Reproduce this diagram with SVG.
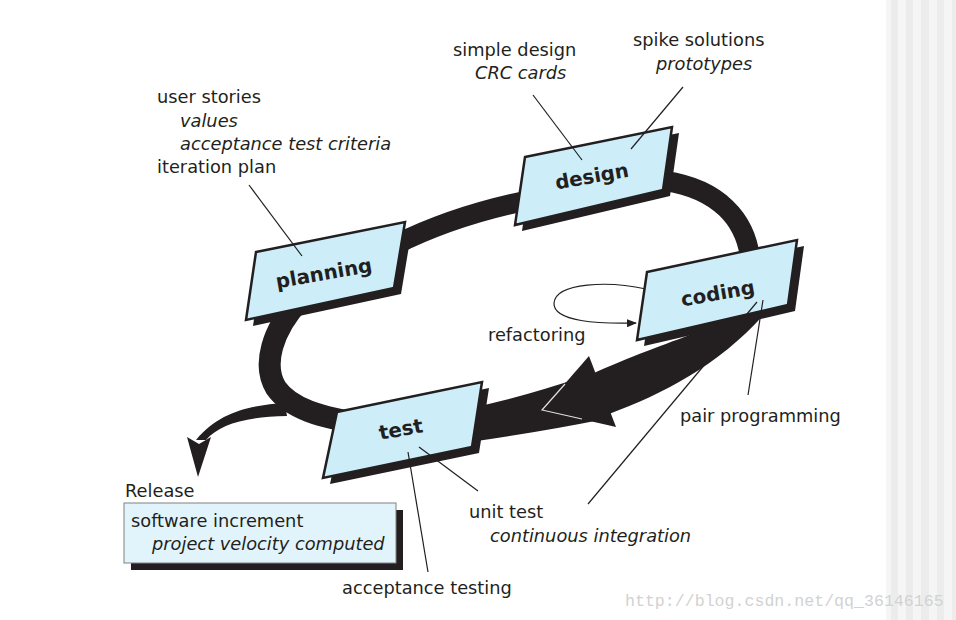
<svg xmlns="http://www.w3.org/2000/svg" width="956" height="620" viewBox="0 0 956 620">
<style>
.lbl{font-family:"DejaVu Sans",sans-serif;font-size:17.8px;fill:#231f20}
.it{font-style:italic}
.bx{fill:#cdeef9;stroke:#231f20;stroke-width:2.5;stroke-linejoin:miter}
.sh{fill:#231f20}
.bt{font-family:"DejaVu Sans",sans-serif;font-weight:bold;font-size:19.8px;fill:#231f20;text-anchor:middle}
.ld{stroke:#231f20;stroke-width:1.2;fill:none}
.band{fill:none;stroke:#231f20}
</style>
<defs>
<marker id="ah" viewBox="0 0 10 8" refX="9" refY="4" markerWidth="10" markerHeight="8" markerUnits="userSpaceOnUse" orient="auto">
<path d="M0 0 L10 4 L0 8 Z" fill="#231f20"/>
</marker>
</defs>
<rect width="956" height="620" fill="#ffffff"/>
<g id="stripes">
<rect x="886" y="0" width="70" height="620" fill="#f5f5f5"/>
<rect x="891" y="0" width="7" height="620" fill="#ececec"/>
<rect x="906" y="0" width="7" height="620" fill="#ececec"/>
<rect x="921" y="0" width="8" height="620" fill="#ececec"/>
<rect x="937" y="0" width="7" height="620" fill="#ececec"/>
<rect x="952" y="0" width="4" height="620" fill="#ececec"/>
</g>
<g id="connectors">
<path class="band" stroke-width="22" d="M300 300 C272 330 262 365 276 388 C290 408 320 418 365 424"/>
<path class="band" stroke-width="20" d="M395 245 Q455 215 530 200"/>
<path class="band" stroke-width="20" d="M665 181 C712 188 752 215 751 275"/>
<path fill="#231f20" d="M755 300 C735 325 670 338 590 375 L609 414 C665 393 720 365 768 310 Z"/>
<path fill="#231f20" d="M470 408 Q520 398 585 376 L600 420 Q540 432 470 442 Z"/>
<polygon fill="#231f20" points="542,410 589,356 616,427"/>
<polyline fill="none" stroke="#e0e0e0" stroke-width="1.2" points="565,384 542,410 582,419"/>
<path fill="#231f20" d="M285 403 C255 405 220 410 196 440 L206 440 C220 424 245 417 287 416 Z"/>
<polygon fill="#231f20" points="187,437 199,444 211,437 198,477"/>
<path class="ld" stroke-width="1.8" d="M646 289 C610 281 556 282 554 303 C553 322 600 324 636 323" marker-end="url(#ah)"/>
</g>
<g id="planning">
<polygon class="sh" points="263,258 412,228 401,294 253,326"/>
<polygon class="bx" points="256,252 405,222 394,288 246,320"/>
<text class="bt" transform="translate(325,280) rotate(-10)">planning</text>
</g>
<g id="design">
<polygon class="sh" points="532,163 679,133 670,196 522,231"/>
<polygon class="bx" points="525,157 672,127 663,190 515,225"/>
<text class="bt" transform="translate(593,183) rotate(-10)">design</text>
</g>
<g id="coding">
<polygon class="sh" points="654,278 804,246 795,311 644,346"/>
<polygon class="bx" points="647,272 797,240 788,305 637,340"/>
<text class="bt" transform="translate(719,300) rotate(-10)">coding</text>
</g>
<g id="test">
<polygon class="sh" points="344,418 489,388 479,453 330,484"/>
<polygon class="bx" points="337,412 482,382 472,447 323,478"/>
<text class="bt" transform="translate(402,436) rotate(-10)">test</text>
</g>
<g id="release">
<rect x="131" y="510" width="272" height="60" fill="#231f20"/>
<rect x="124" y="503" width="272" height="60" fill="#e2f4fb" stroke="#808080" stroke-width="1"/>
<text class="lbl" x="125" y="497">Release</text>
<text class="lbl" x="131" y="527">software increment</text>
<text class="lbl it" x="152" y="550">project velocity computed</text>
</g>
<g id="leaders">
<line class="ld" x1="249" y1="185" x2="302" y2="256"/>
<line class="ld" x1="533" y1="95" x2="582" y2="160"/>
<line class="ld" x1="683" y1="87" x2="631" y2="149"/>
<line class="ld" x1="748" y1="395" x2="763" y2="300"/>
<line class="ld" x1="588" y1="504" x2="757" y2="302"/>
<line class="ld" x1="408" y1="452" x2="428" y2="572"/>
<line class="ld" x1="419" y1="447" x2="478" y2="491"/>
</g>
<g id="labels">
<text class="lbl" x="157" y="103">user stories</text>
<text class="lbl it" x="180" y="127">values</text>
<text class="lbl it" x="180" y="150">acceptance test criteria</text>
<text class="lbl" x="157" y="173">iteration plan</text>
<text class="lbl" x="453" y="56">simple design</text>
<text class="lbl it" x="475" y="79">CRC cards</text>
<text class="lbl" x="633" y="46">spike solutions</text>
<text class="lbl it" x="656" y="70">prototypes</text>
<text class="lbl" x="488" y="341">refactoring</text>
<text class="lbl" x="680" y="422">pair programming</text>
<text class="lbl" x="469" y="518">unit test</text>
<text class="lbl it" x="490" y="542">continuous integration</text>
<text class="lbl" x="342" y="594">acceptance testing</text>
</g>
<text x="625" y="606" font-family="Liberation Mono, monospace" font-size="16.6" fill="#d2d2d2">http://blog.csdn.net/qq_36146165</text>
</svg>
